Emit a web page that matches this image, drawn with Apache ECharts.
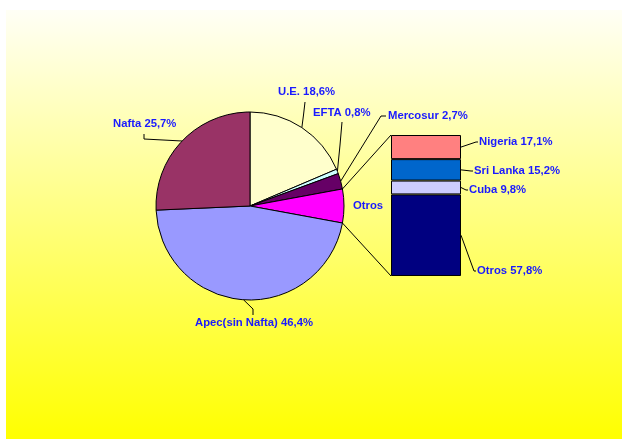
<!DOCTYPE html>
<html><head><meta charset="utf-8">
<script src="https://cdn.jsdelivr.net/npm/echarts@6/dist/echarts.min.js"></script>
<style>html,body{margin:0;padding:0;background:#fff}#c{width:622px;height:439px}</style>
</head><body><div id="c"></div>
<script>
// ---- data ----
const pieNames = ['U.E.', 'EFTA', 'Mercosur', 'Otros', 'Apec(sin Nafta)', 'Nafta'];
const pieValues = [18.6, 0.8, 2.7, 5.8, 46.4, 25.7];
const barNames = ['Otros', 'Cuba', 'Sri Lanka', 'Nigeria'];   // bottom to top
const barValues = [57.8, 9.8, 15.2, 17.1];

// ---- styles / layout ----
const pieColors = ['#FFFFCC', '#CCFFFF', '#660066', '#FF00FF', '#9999FF', '#993366'];
const barColors = ['#000080', '#CCCCFF', '#0066CC', '#FF8080'];
const TXT = '#1a1aff';
const FONT = 'Liberation Sans, Arial, sans-serif';
const C = [250, 206], R = 94;
const GRID = {left: 391, top: 135, width: 70, height: 141};
const pieLabelPos = {
  'U.E.': {x: 278, y: 92, bend: [[303.5, 115], [305, 102]]},
  'EFTA': {x: 313, y: 113, bend: [[340, 145], [342, 122]]},
  'Mercosur': {x: 388, y: 116, bend: [[381, 116], [386, 116]]},
  'Otros': {x: 353, y: 206},
  'Apec(sin Nafta)': {x: 195, y: 323, bend: [[253, 309], [253, 315]]},
  'Nafta': {x: 113, y: 124, bend: [[144, 139], [144, 134]]}
};
const barLabelPos = {
  'Nigeria': {x: 479, y: 142},
  'Sri Lanka': {x: 474, y: 171},
  'Cuba': {x: 469, y: 190},
  'Otros': {x: 477, y: 271}
};

const pieTotal = pieValues.reduce((a, b) => a + b, 0);
const barTotal = barValues.reduce((a, b) => a + b, 0);
function angleAt(i, frac) {
  let s = 0; for (let k = 0; k < i; k++) s += pieValues[k];
  return (s + frac * pieValues[i]) / pieTotal * 2 * Math.PI;
}
function edge(th) { return [C[0] + R * Math.sin(th), C[1] - R * Math.cos(th)]; }
function fmt(v) { return v.toFixed(1).replace('.', ',') + '%'; }

const labelStyle = {color: TXT, fontFamily: FONT, fontWeight: 'bold', fontSize: 11.3};

const chart = echarts.init(document.getElementById('c'), null, {renderer: 'canvas'});

const series = [{
  type: 'pie',
  center: C, radius: R,
  startAngle: 90, clockwise: true,
  animation: false,
  data: pieNames.map((n, i) => ({
    name: n, value: pieValues[i],
    itemStyle: {color: pieColors[i]},
    labelLine: {show: n !== 'Otros'}
  })),
  itemStyle: {borderColor: '#000', borderWidth: 1},
  label: Object.assign({
    show: true, position: 'outside',
    formatter: p => p.name === 'Otros' ? 'Otros' : p.name + ' ' + fmt(p.value)
  }, labelStyle),
  labelLine: {show: true, lineStyle: {color: '#000', width: 1}},
  labelLayout: p => {
    const n = pieNames[p.dataIndex];
    const L = pieLabelPos[n];
    const o = {x: L.x, y: L.y, align: 'left', verticalAlign: 'middle'};
    if (L.bend) o.labelLinePoints = [edge(angleAt(p.dataIndex, 0.5))].concat(L.bend);
    return o;
  },
  emphasis: {disabled: true}
}];

barNames.forEach((n, i) => {
  series.push({
    type: 'bar', name: n, stack: 'o',
    xAxisIndex: 0, yAxisIndex: 0,
    barWidth: '100%',
    animation: false,
    data: [barValues[i]],
    itemStyle: {color: barColors[i], borderColor: '#000', borderWidth: 1},
    label: Object.assign({
      show: true, position: 'right',
      formatter: p => p.seriesName + ' ' + fmt(p.value)
    }, labelStyle),
    labelLayout: () => ({x: barLabelPos[n].x, y: barLabelPos[n].y, align: 'left', verticalAlign: 'middle'}),
    emphasis: {disabled: true}
  });
});

const option = {
  animation: false,
  backgroundColor: '#fff',
  grid: Object.assign({}, GRID),
  xAxis: {type: 'category', data: ['Otros'], show: false},
  yAxis: {type: 'value', min: 0, max: barTotal, show: false},
  graphic: [{
    type: 'rect', id: 'bg', z: -10, silent: true,
    shape: {x: 6, y: 10, width: 616, height: 429},
    style: {fill: new echarts.graphic.LinearGradient(0, 0, 0, 1, [
      {offset: 0, color: '#FFFFF6'}, {offset: 1, color: '#FFFF00'}])}
  }],
  series: series
};
chart.setOption(option);

// connector lines & bar leader lines computed from the rendered geometry
const yPix = v => chart.convertToPixel({yAxisIndex: 0}, v);
const xRight = GRID.left + GRID.width;
const g = [];
const oi = pieNames.indexOf('Otros');
const pTop = edge(angleAt(oi, 0)), pBot = edge(angleAt(oi, 1));
g.push({type: 'polyline', z: 5, silent: true, shape: {points: [pTop, [GRID.left, yPix(barTotal)]]}, style: {stroke: '#000', lineWidth: 1, fill: null}});
g.push({type: 'polyline', z: 5, silent: true, shape: {points: [pBot, [GRID.left, yPix(0)]]}, style: {stroke: '#000', lineWidth: 1, fill: null}});
let cum = 0;
barNames.forEach((n, i) => {
  const mid = cum + barValues[i] / 2; cum += barValues[i];
  const L = barLabelPos[n];
  g.push({type: 'polyline', z: 5, silent: true,
    shape: {points: [[xRight, yPix(mid)], [L.x - 3, L.y], [L.x - 1, L.y]]},
    style: {stroke: '#000', lineWidth: 1, fill: null}});
});
chart.setOption({graphic: g.map((e, k) => Object.assign({id: 'l' + k}, e))});
</script>
</body></html>
